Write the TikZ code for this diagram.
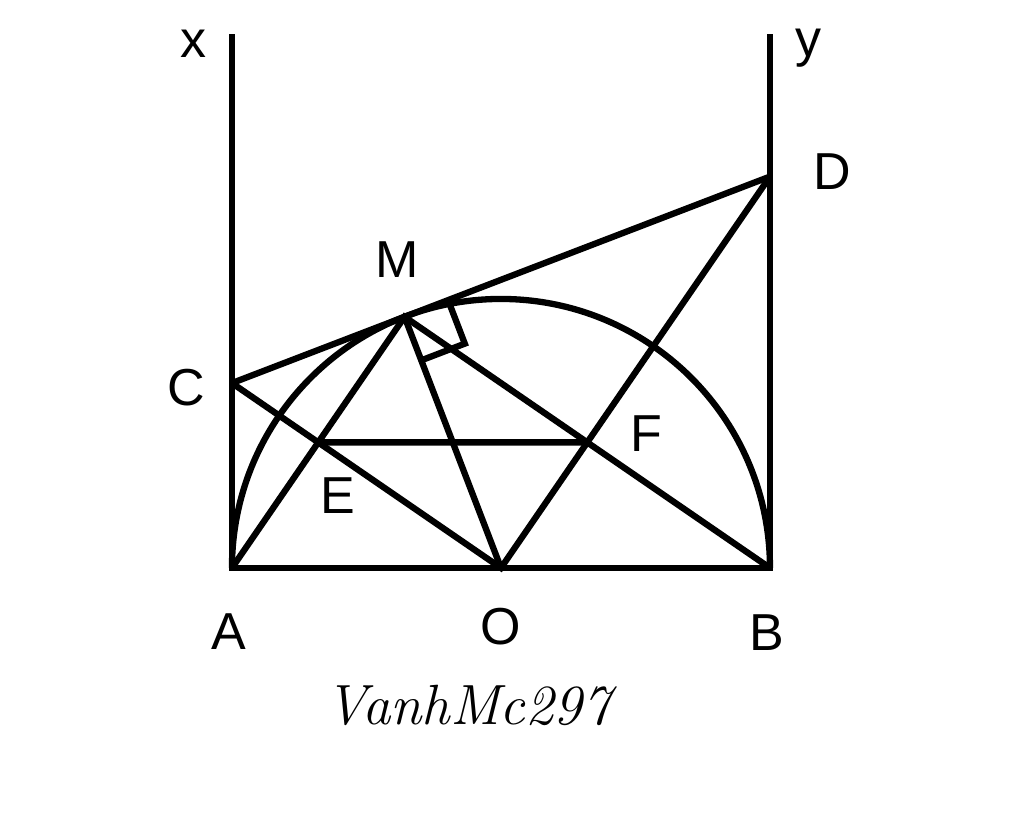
\documentclass[tikz,border=0pt]{standalone}
\usepackage{fontspec}
\setsansfont{Liberation Sans}
\usetikzlibrary{calc,positioning}

\begin{document}
\begin{tikzpicture}[
    line width=2pt,
    lbl/.style={font=\sffamily\fontsize{16.5}{18}\selectfont, inner sep=0pt},
    sig/.style={font=\itshape\fontsize{18}{21}\selectfont, inner sep=0pt}
]
    \useasboundingbox (-5.587,-2.866) rectangle (5.833,6.334);
    \def\rad{3}
    \def\ang{111}
    \pgfmathsetmacro{\cy}{\rad*(1+cos(\ang))/sin(\ang)}
    \pgfmathsetmacro{\dy}{\rad*(1-cos(\ang))/sin(\ang)}

    % points
    \coordinate (O) at (0,0);
    \coordinate (A) at (-\rad,0);
    \coordinate (B) at (\rad,0);
    \coordinate (M) at (\ang:\rad);
    \coordinate (C) at (-\rad,\cy);
    \coordinate (D) at (\rad,\dy);
    \coordinate (X) at (-\rad,5.95);
    \coordinate (Y) at (\rad,5.95);
    \coordinate (E) at (intersection of A--M and C--O);
    \coordinate (F) at (intersection of B--M and D--O);

    % figure
    \draw (X) -- (A) -- (B) -- (Y);
    \draw (A) arc (180:0:\rad);
    \draw (C) -- (D);
    \draw (A) -- (M) -- (B);
    \draw (C) -- (O) -- (D);
    \draw (M) -- (O);
    \draw (E) -- (F);

    % right angle at M
    \coordinate (m1) at ($(M)!0.52cm!(D)$);
    \coordinate (m2) at ($(M)!0.52cm!(O)$);
    \draw (m1) -- ($(m1)+(m2)-(M)$) -- (m2);

    % labels
    \node[lbl, left=0.25cm of X, yshift=-1mm] (lx) {x};
    \node[lbl, right=0.25cm of Y, yshift=-1.5mm] (ly) {y};
    \node[lbl, right=0.45cm of D, yshift=0.5mm] (lD) {D};
    \node[lbl, above=0.4cm of M, xshift=-0.8mm] (lM) {M};
    \node[lbl, left=0.26cm of C, yshift=-0.5mm] (lC) {C};
    \node[lbl, below=0.36cm of E, xshift=2.2mm] (lE) {E};
    \node[lbl, right=0.45cm of F, yshift=1mm] (lF) {F};
    \node[lbl, below=0.47cm of A, xshift=-0.4mm] (lA) {A};
    \node[lbl, below=0.41cm of O] (lO) {O};
    \node[lbl, below=0.49cm of B, xshift=-0.4mm] (lB) {B};
    \node[sig] (name) at (-0.37,-1.53) {VanhMc297};
\end{tikzpicture}
\end{document}
